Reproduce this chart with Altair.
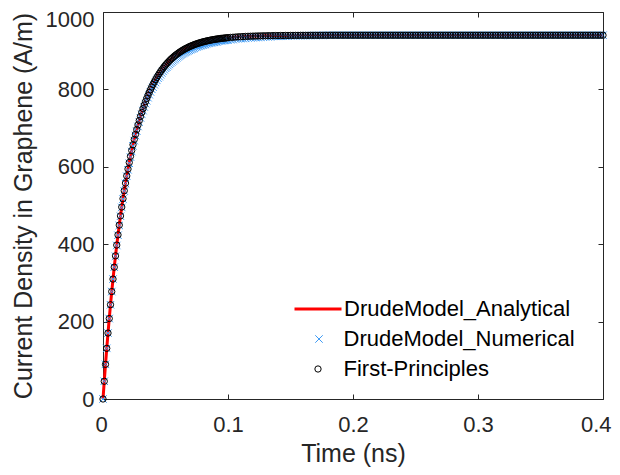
import altair as alt
import numpy as np
import pandas as pd

# ---------------- data ----------------
# time grid (ns): fine steps during the rise, coarser on the plateau
t_rise = np.round(np.arange(0.0, 0.1005, 0.001), 3)      # 0.000 ... 0.100
t_plateau = np.round(np.arange(0.102, 0.4005, 0.002), 3)  # 0.102 ... 0.400

# Current density (A/m) - Drude analytical / first-principles (coincide)
analytic_rise = [
    0.0, 45.8, 89.5, 130.9, 170.4, 207.9, 243.6, 277.6, 309.9, 340.6,
    369.9, 397.7, 424.1, 449.3, 473.2, 496.0, 517.6, 538.2, 557.8, 576.5,
    594.2, 611.1, 627.1, 642.4, 656.9, 670.7, 683.8, 696.3, 708.2, 719.5,
    730.3, 740.5, 750.2, 759.5, 768.3, 776.7, 784.6, 792.2, 799.4, 806.3,
    812.8, 819.0, 824.9, 830.5, 835.9, 840.9, 845.8, 850.4, 854.7, 858.9,
    862.8, 866.6, 870.2, 873.6, 876.8, 879.9, 882.8, 885.6, 888.3, 890.8,
    893.2, 895.5, 897.6, 899.7, 901.7, 903.6, 905.3, 907.0, 908.6, 910.2,
    911.6, 913.0, 914.3, 915.6, 916.8, 917.9, 919.0, 920.0, 921.0, 921.9,
    922.8, 923.6, 924.4, 925.2, 925.9, 926.6, 927.2, 927.9, 928.5, 929.0,
    929.6, 930.1, 930.6, 931.0, 931.5, 931.9, 932.3, 932.6, 933.0, 933.3,
    933.7,
]
analytic_plateau_head = [
    934.3, 934.8, 935.3, 935.8, 936.2, 936.5, 936.9, 937.2, 937.4, 937.7,
    937.9, 938.1, 938.3, 938.4, 938.6, 938.7, 938.8, 939.0, 939.1, 939.1,
    939.2, 939.3, 939.4, 939.4, 939.5, 939.5, 939.6, 939.6, 939.7, 939.7,
    939.7, 939.7, 939.8, 939.8, 939.8, 939.8, 939.8, 939.9, 939.9, 939.9,
]

# Drude numerical (slight lag around the knee)
numerical_rise = [
    0.0, 45.8, 89.5, 130.9, 170.4, 207.9, 243.6, 277.6, 309.9, 340.6,
    368.9, 396.7, 423.1, 448.3, 472.2, 495.0, 516.6, 537.2, 556.8, 575.5,
    592.2, 609.1, 625.1, 639.4, 653.9, 667.7, 680.8, 692.3, 704.2, 715.5,
    726.3, 735.5, 745.2, 754.5, 763.3, 770.7, 778.6, 786.2, 793.4, 800.3,
    805.8, 812.0, 817.9, 823.5, 828.9, 832.9, 837.8, 842.4, 846.7, 850.9,
    854.8, 857.6, 861.2, 864.6, 867.8, 870.9, 873.8, 876.6, 879.3, 881.8,
    884.2, 886.5, 888.6, 890.7, 892.7, 894.6, 896.3, 898.0, 899.6, 901.2,
    902.6, 904.0, 905.3, 906.6, 908.8, 909.9, 911.0, 912.0, 913.0, 913.9,
    914.8, 915.6, 916.4, 918.2, 918.9, 919.6, 920.2, 920.9, 921.5, 922.0,
    922.6, 923.1, 924.6, 925.0, 925.5, 925.9, 926.3, 926.6, 927.0, 927.3,
    927.7,
]
numerical_plateau_head = [
    928.3, 928.8, 930.3, 930.8, 931.2, 931.5, 931.9, 933.2, 933.4, 933.7,
    933.9, 934.1, 935.3, 935.4, 935.6, 935.7, 935.8, 937.0, 937.1, 937.1,
    937.2, 937.3, 937.4, 937.4, 938.5, 938.6, 938.6, 938.7, 938.7, 938.8,
    939.0, 939.1, 939.2, 939.3, 939.4, 939.5, 939.6, 939.7, 939.8, 939.9,
]

# plateau from t = 0.182 ns to 0.400 ns (both series)
plateau_tail = [
    940, 940, 940, 940, 940, 940, 940, 940, 940, 940,
    940, 940, 940, 940, 940, 940, 940, 940, 940, 940,
    940, 940, 940, 940, 940, 940, 940, 940, 940, 940,
    940, 940, 940, 940, 940, 940, 940, 940, 940, 940,
    940, 940, 940, 940, 940, 940, 940, 940, 940, 940,
    940, 940, 940, 940, 940, 940, 940, 940, 940, 940,
    940, 940, 940, 940, 940, 940, 940, 940, 940, 940,
    940, 940, 940, 940, 940, 940, 940, 940, 940, 940,
    940, 940, 940, 940, 940, 940, 940, 940, 940, 940,
    940, 940, 940, 940, 940, 940, 940, 940, 940, 940,
    940, 940, 940, 940, 940, 940, 940, 940, 940, 940,
]

x_ticks = [0, 0.1, 0.2, 0.3, 0.4]
y_ticks = [0, 200, 400, 600, 800, 1000]
series_names = ["DrudeModel_Analytical", "DrudeModel_Numerical", "First-Principles"]
series_colors = ["#FF0000", "#3F9BF5", "#000000"]

# ---------------- tables ----------------
t_all = np.concatenate([t_rise, t_plateau])
J_analytic = analytic_rise + analytic_plateau_head + plateau_tail
J_numeric = numerical_rise + numerical_plateau_head + plateau_tail
assert len(t_all) == len(J_analytic) == len(J_numeric)

df_a = pd.DataFrame({"t": t_all, "J": J_analytic, "series": series_names[0]})
df_n = pd.DataFrame({"t": t_all, "J": J_numeric, "series": series_names[1]})
df_f = pd.DataFrame({"t": t_all, "J": J_analytic, "series": series_names[2]})

# ---------------- styling ----------------
FONT = "Liberation Sans"
TXT = "#262626"
XPATH = "M-1,-1L1,1M-1,1L1,-1"

xs = alt.Scale(domain=[0, 0.4], nice=False, zero=False)
ys = alt.Scale(domain=[0, 1000], nice=False, zero=False)


def tick_axis(orient, values):
    return alt.Axis(orient=orient, offset=-5, values=values, labels=False,
                    domain=False, ticks=True, tickSize=5, tickWidth=1,
                    tickColor=TXT, grid=False, title="")


x_main = alt.Axis(orient="bottom", values=x_ticks, format="~g", domain=False,
                  ticks=False, tickSize=0, labelPadding=15, labelFontSize=22,
                  labelFont=FONT, labelColor=TXT, grid=False,
                  labelFlush=True, labelFlushOffset=8, labelOverlap=False,
                  title="Time (ns)", titleFont=FONT, titleFontSize=25,
                  titleFontWeight="normal", titleColor=TXT,
                  titleBaseline="alphabetic", titleY=62)
y_main = alt.Axis(orient="left", values=y_ticks, format="d", domain=False,
                  ticks=False, tickSize=0, labelPadding=9, labelFontSize=22,
                  labelFont=FONT, labelColor=TXT, grid=False,
                  labelFlush=False, labelOverlap=False,
                  labelOffset={"condition": {"test": "datum.value == 1000", "value": 7},
                               "value": 0},
                  title="Current Density in Graphene (A/m)", titleFont=FONT,
                  titleFontSize=25, titleFontWeight="normal", titleColor=TXT,
                  titleBaseline="alphabetic", titleX=-72)


def legend(x, y, **kw):
    return alt.Legend(title=None, orient="none", legendX=x, legendY=y,
                      padding=0, labelFont=FONT, labelFontSize=22,
                      labelLimit=400, labelColor="#000000", **kw)


line = alt.Chart(df_a).mark_line(strokeWidth=3).encode(
    x=alt.X("t:Q", scale=xs, axis=x_main),
    y=alt.Y("J:Q", scale=ys, axis=y_main),
    color=alt.Color("series:N",
                    scale=alt.Scale(domain=[series_names[0]], range=[series_colors[0]]),
                    legend=legend(190, 272, symbolType="stroke", symbolSize=2209,
                                  symbolStrokeWidth=3, labelOffset=1)),
)

crosses = alt.Chart(df_n).mark_point(shape=XPATH, filled=False, size=56,
                                     strokeWidth=1, opacity=1).encode(
    x=alt.X("t:Q", scale=xs, axis=tick_axis("bottom", x_ticks)),
    y=alt.Y("J:Q", scale=ys, axis=tick_axis("left", y_ticks)),
    color=alt.Color("series:N",
                    scale=alt.Scale(domain=[series_names[1]], range=[series_colors[1]]),
                    legend=legend(205, 316, symbolType=XPATH, symbolSize=56,
                                  symbolStrokeWidth=1, labelOffset=13.5)),
)

circles = alt.Chart(df_f).mark_point(shape="circle", filled=False, size=40,
                                     strokeWidth=1, opacity=1).encode(
    x=alt.X("t:Q", scale=xs, axis=tick_axis("top", x_ticks)),
    y=alt.Y("J:Q", scale=ys, axis=tick_axis("right", y_ticks)),
    color=alt.Color("series:N",
                    scale=alt.Scale(domain=[series_names[2]], range=[series_colors[2]]),
                    legend=legend(204, 346, symbolType="circle", symbolSize=40,
                                  symbolStrokeWidth=1, symbolFillColor="transparent",
                                  labelOffset=14.5)),
)

chart = (
    alt.layer(line, crosses, circles)
    .resolve_scale(color="independent")
    .resolve_axis(x="independent", y="independent")
    .properties(width=500, height=387,
                autosize=alt.AutoSizeParams(type="none"),
                padding={"left": 95, "top": 4, "right": 9, "bottom": 68},
                background="white")
    .configure_view(stroke=TXT, strokeWidth=1)
)

chart.save("out.html", embed_options={"renderer": "svg", "actions": False})
